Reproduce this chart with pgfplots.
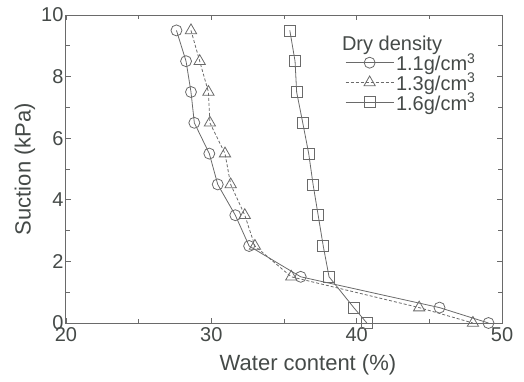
\documentclass[border=0pt]{standalone}
\usepackage{pgfplots}
\pgfplotsset{compat=1.18}
\usepackage{fontspec}
\setmainfont{Liberation Sans}
\definecolor{ln}{HTML}{6A6A6A}
\definecolor{tx}{HTML}{454A48}
\begin{document}
\begin{tikzpicture}
\begin{axis}[
  at={(0,0)}, anchor=south west,
  scale only axis, width=436pt, height=308pt,
  xmin=20, xmax=50, ymin=0, ymax=10,
  xtick={20,30,40,50}, ytick={0,2,4,6,8,10},
  minor xtick={25,35,45}, minor ytick={1,3,5,7,9},
  tick align=inside,
  major tick length=5pt, minor tick length=4pt,
  axis line style={color=ln, line width=1pt},
  every tick/.style={color=ln, line width=0.8pt},
  tick label style={font=\fontsize{20}{22}\selectfont, color=tx},
  /pgf/number format/assume math mode=true,
  xticklabel style={yshift=-1pt},
  yticklabel style={xshift=1pt},
  xlabel={Water content (\%)}, ylabel={Suction (kPa)},
  label style={font=\fontsize{22}{24}\selectfont, color=tx},
  xlabel style={at={(axis description cs:0.555,-0.135)}, anchor=center},
  ylabel style={at={(axis description cs:-0.094,0.5)}, anchor=center},
  legend style={draw=none, fill=none, at={(axis cs:39.2,9.38)}, anchor=north west,
    font=\fontsize{20}{20}\selectfont, text=tx, row sep=-3pt, inner sep=0pt,
    legend cell align=left},
  legend image code/.code={
    \draw[#1, mark repeat=2, mark phase=2] plot coordinates {(0pt,0pt) (24pt,0pt) (48pt,0pt)};},
]
\addlegendimage{empty legend}
\addlegendentry{\hspace{-54pt}Dry density\rule[-9pt]{0pt}{10pt}}
\addplot[color=ln, line width=0.8pt, mark=o, mark size=5.5pt, mark options={solid, fill=white}] coordinates {
(27.6,9.5) (28.26,8.5) (28.6,7.5) (28.83,6.5) (29.86,5.5) (30.44,4.5) (31.65,3.5) (32.6,2.5) (36.15,1.5) (45.7,0.5) (49.07,0)
};
\addlegendentry{1.1g/cm\textsuperscript{3}}
\addplot[color=ln, line width=0.8pt, densely dashed, mark=triangle, mark size=6.5pt, mark options={solid, fill=white}] coordinates {
(28.6,9.5) (29.2,8.5) (29.8,7.5) (29.9,6.5) (30.94,5.5) (31.33,4.5) (32.3,3.5) (33.0,2.5) (35.5,1.5) (44.3,0.5) (48.0,0)
};
\addlegendentry{1.3g/cm\textsuperscript{3}}
\addplot[color=ln, line width=0.8pt, mark=square, mark size=5.5pt, mark options={solid, fill=white}] coordinates {
(35.4,9.5) (35.76,8.5) (35.87,7.5) (36.29,6.5) (36.7,5.5) (37.0,4.5) (37.35,3.5) (37.7,2.5) (38.1,1.5) (39.8,0.5) (40.7,0)
};
\addlegendentry{1.6g/cm\textsuperscript{3}}
\end{axis}
\pgfresetboundingbox
\path[use as bounding box] (-66pt,-58pt) rectangle (458pt,323pt);
\end{tikzpicture}
\end{document}
